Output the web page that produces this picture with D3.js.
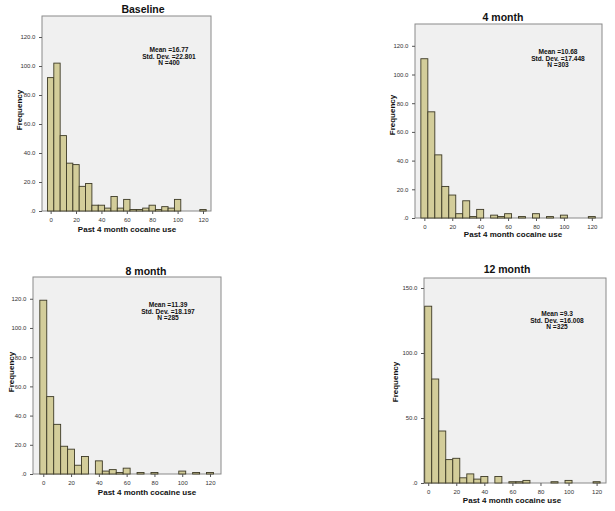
<!DOCTYPE html>
<html><head><meta charset="utf-8">
<script src="https://cdn.jsdelivr.net/npm/d3@7"></script>
<style>
html,body{margin:0;padding:0;background:#fff;}
svg{display:block;font-family:"Liberation Sans",Arial,sans-serif;}
</style></head>
<body><svg id="c" width="615" height="511"></svg>
<script>
// ---- data ----
const binCenters = [0,5,10,15,20,25,30,35,40,45,50,55,60,65,70,75,80,85,90,95,100,105,110,115,120];
const baselineFreq = [92,102,52,33,32,17,19,4,4,2,10,2,8,1,1,2,4,1,3,2,8,0,0,0,1];
const month4Freq   = [111,74,44,22,16,3,12,1,6,0,2,1,3,0,1,0,3,0,1,0,2,0,0,0,1];
const month8Freq   = [119,53,34,19,17,6,12,0,9,2,3,1,4,0,1,0,1,0,0,0,2,0,1,0,1];
const month12Freq  = [136,80,40,18,19,4,7,3,5,0,5,0,1,1,2,0,0,0,1,0,2,0,0,0,1];
const panelTitles = ["Baseline","4 month","8 month","12 month"];
const statLines = [
  ["Mean =16.77","Std. Dev. =22.801","N =400"],
  ["Mean =10.68","Std. Dev. =17.448","N =303"],
  ["Mean =11.39","Std. Dev. =18.197","N =285"],
  ["Mean =9.3","Std. Dev. =16.008","N =325"]
];
const xTicks = [0,20,40,60,80,100,120];
const yTicksA = [0,20,40,60,80,100,120];
const yTicksB = [0,50,100,150];
const binWidth = 5;
const xLabel = "Past 4 month cocaine use";
const yLabel = "Frequency";

// ---- layout ----
const panels = [
  {freq: baselineFreq, yTicks: yTicksA, x0:42, x1:211, y0:16, y1:211, xd:[-6.8,126.3], ymax:134.5,
   title:[143,13], stats:[169,52], ylab:[22,110], xlab:[127,232]},
  {freq: month4Freq, yTicks: yTicksA, x0:415, x1:602, y0:24, y1:218, xd:[-6.7,127.3], ymax:135.2,
   title:[503,21], stats:[558,54], ylab:[395,115], xlab:[513,237]},
  {freq: month8Freq, yTicks: yTicksA, x0:33, x1:221, y0:277, y1:474, xd:[-7.4,127.9], ymax:134.9,
   title:[146,275], stats:[168,307], ylab:[14,372], xlab:[147,495]},
  {freq: month12Freq, yTicks: yTicksB, x0:424, x1:606, y0:278, y1:483, xd:[-3,126.7], ymax:157.7,
   title:[507,273], stats:[557,316], ylab:[398,382], xlab:[512,503]}
];

const svg = d3.select("#c");
const fmt = d => d === 0 ? ".0" : d.toFixed(1);

panels.forEach((p, i) => {
  const g = svg.append("g");
  const x = d3.scaleLinear().domain(p.xd).range([p.x0, p.x1]);
  const y = d3.scaleLinear().domain([0, p.ymax]).range([p.y1, p.y0]);

  g.append("rect").attr("x", p.x0).attr("y", p.y0)
    .attr("width", p.x1 - p.x0).attr("height", p.y1 - p.y0)
    .attr("fill", "#f0f0f0").attr("stroke", "#8a8a8a").attr("stroke-width", 1);

  const bins = binCenters.map((c, k) => ({c, v: p.freq[k]})).filter(d => d.v > 0);
  g.selectAll("rect.bar").data(bins).enter().append("rect")
    .attr("class", "bar")
    .attr("x", d => x(d.c - binWidth / 2))
    .attr("width", d => x(d.c + binWidth / 2) - x(d.c - binWidth / 2))
    .attr("y", d => y(d.v))
    .attr("height", d => y(0) - y(d.v))
    .attr("fill", "#d3cd9a").attr("stroke", "#3d3a26").attr("stroke-width", 0.9);

  const xa = g.append("g").attr("transform", `translate(0,${p.y1})`)
    .call(d3.axisBottom(x).tickValues(xTicks).tickSize(3).tickFormat(d3.format("d")));
  xa.select(".domain").remove();
  xa.selectAll("line").attr("stroke", "#555");
  xa.selectAll("text").attr("font-size", 6).attr("fill", "#333").attr("dy", "0.9em");

  const ya = g.append("g").attr("transform", `translate(${p.x0},0)`)
    .call(d3.axisLeft(y).tickValues(p.yTicks).tickSize(3).tickFormat(fmt));
  ya.select(".domain").remove();
  ya.selectAll("line").attr("stroke", "#555");
  ya.selectAll("text").attr("font-size", 6).attr("fill", "#333").attr("dx", "-0.1em");

  g.append("text").attr("x", p.title[0]).attr("y", p.title[1])
    .attr("text-anchor", "middle").attr("font-size", 10.5).attr("font-weight", "bold")
    .attr("fill", "#111").text(panelTitles[i]);

  g.append("text").attr("transform", `translate(${p.ylab[0]},${p.ylab[1]}) rotate(-90)`)
    .attr("text-anchor", "middle").attr("font-size", 8).attr("font-weight", "bold")
    .attr("fill", "#111").text(yLabel);

  g.append("text").attr("x", p.xlab[0]).attr("y", p.xlab[1])
    .attr("text-anchor", "middle").attr("font-size", 8).attr("font-weight", "bold")
    .attr("fill", "#111").text(xLabel);

  g.selectAll("text.stat").data(statLines[i]).enter().append("text")
    .attr("class", "stat")
    .attr("x", p.stats[0]).attr("y", (d, k) => p.stats[1] + k * 6.6)
    .attr("text-anchor", "middle").attr("font-size", 6.6).attr("font-weight", "bold")
    .attr("fill", "#111").text(d => d);
});
</script></body></html>
